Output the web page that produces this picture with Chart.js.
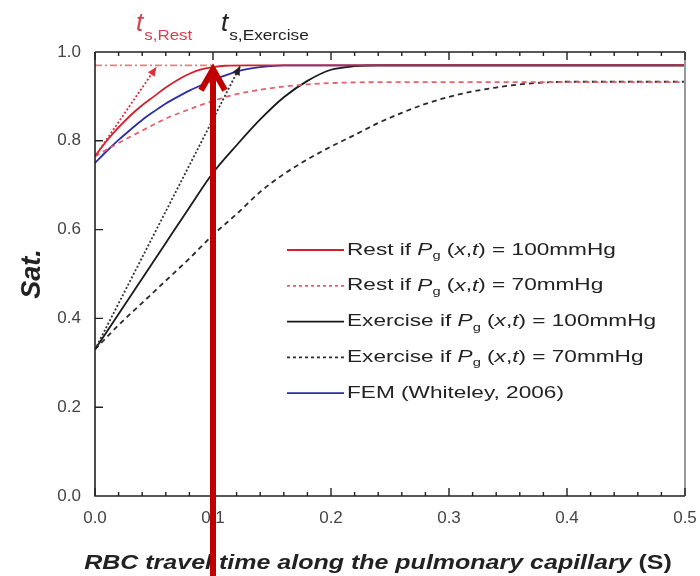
<!DOCTYPE html>
<html>
<head>
<meta charset="utf-8">
<script src="https://cdn.jsdelivr.net/npm/chart.js@4.4.1/dist/chart.umd.min.js"></script>
<style>
	body { margin: 0; background: #fff; }
	canvas { display: block; }
</style>
</head>
<body>
<canvas id="c" width="700" height="576"></canvas>
<script>
// RBC travel time (s) and O2 saturation
const rest100T = [0, 0.01, 0.02, 0.03, 0.04, 0.05, 0.06, 0.07, 0.08, 0.09, 0.1, 0.11, 0.13, 0.5]
const rest100 = [0.765, 0.80, 0.83, 0.857, 0.88, 0.90, 0.92, 0.937, 0.951, 0.961, 0.966, 0.969, 0.97, 0.97]

const rest70T = [0, 0.02, 0.04, 0.06, 0.08, 0.1, 0.12, 0.14, 0.16, 0.18, 0.2, 0.24, 0.5]
const rest70 = [0.765, 0.795, 0.823, 0.85, 0.871, 0.89, 0.905, 0.915, 0.922, 0.927, 0.93, 0.932, 0.932]

const ex100T = [0, 0.02, 0.04, 0.06, 0.08, 0.1, 0.12, 0.14, 0.16, 0.18, 0.2, 0.22, 0.24, 0.5]
const ex100 = [0.33, 0.41, 0.49, 0.57, 0.65, 0.728, 0.79, 0.848, 0.898, 0.935, 0.96, 0.968, 0.97, 0.97]

const ex70T = [0, 0.02, 0.04, 0.06, 0.08, 0.1, 0.12, 0.14, 0.16, 0.18, 0.2, 0.22, 0.24, 0.26, 0.28, 0.3, 0.32, 0.34, 0.36, 0.38, 0.4, 0.5]
const ex70 = [0.33, 0.385, 0.435, 0.485, 0.535, 0.588, 0.635, 0.685, 0.725, 0.758, 0.787, 0.813, 0.84, 0.863, 0.883, 0.899, 0.911, 0.92, 0.927, 0.931, 0.933, 0.933]

const femT = [0, 0.01, 0.02, 0.03, 0.04, 0.05, 0.06, 0.07, 0.08, 0.09, 0.1, 0.11, 0.12, 0.13, 0.14, 0.16, 0.5]
const fem = [0.75, 0.777, 0.802, 0.825, 0.847, 0.866, 0.884, 0.899, 0.913, 0.925, 0.937, 0.947, 0.956, 0.962, 0.966, 0.97, 0.97]

// tangent (initial slope) lines and the saturation level
const restTanT = [0, 0.052]
const restTanS = [0.765, 0.966]
const exTanT = [0, 0.123]
const exTanS = [0.33, 0.968]
const satLevelT = [0, 0.1]
const satLevelS = [0.97, 0.97]
const markerT = 0.1

const legendTask = ['Rest', 'Rest', 'Exercise', 'Exercise']
const legendPg = [100, 70, 100, 70]
const femLabel = 'FEM (Whiteley, 2006)'

const FONT = '"Liberation Sans", Arial, sans-serif'
const RED = '#d3202e'

const pts = (xs, ys) => xs.map((x, i) => ({ x: x, y: ys[i] }))

const line = (label, xs, ys, color, dash, legend) => ({
	label: label,
	data: pts(xs, ys),
	borderColor: color,
	borderWidth: 1.8,
	borderDash: dash || [],
	pointRadius: 0,
	fill: false,
	cubicInterpolationMode: 'monotone',
	legend: legend,
})

const datasets = [
	line('satLevel', satLevelT, satLevelS, '#e88088', [7, 3, 2, 3]),
	line('restTan', restTanT, restTanS, '#d8303c', [2, 2]),
	line('exTan', exTanT, exTanS, '#333', [2, 2]),
	line('Rest 100', rest100T, rest100, RED, null, true),
	line('Rest 70', rest70T, rest70, '#e2616a', [5, 4], true),
	line('Exercise 100', ex100T, ex100, '#1a1a1a', null, true),
	line('Exercise 70', ex70T, ex70, '#2a2a2a', [5, 4], true),
	line(femLabel, femT, fem, '#2b2fa8', null, true),
]

// draws mixed-font text, stretched horizontally by sx
function rich(ctx, x, y, parts, sx) {
	sx = sx || 1
	ctx.save()
	ctx.translate(x, y)
	ctx.scale(sx, 1)
	let cx = 0
	parts.forEach(p => {
		ctx.font = p.f
		ctx.fillText(p.t, cx, p.dy || 0)
		cx += ctx.measureText(p.t).width
	})
	ctx.restore()
	return x + cx * sx
}

function textWidth(ctx, parts, sx) {
	let w = 0
	parts.forEach(p => { ctx.font = p.f; w += ctx.measureText(p.t).width })
	return w * (sx || 1)
}

function pgParts(task, p) {
	const n = '17px ' + FONT, it = 'italic 17px ' + FONT
	return [
		{ t: task + ' if ', f: n },
		{ t: 'P', f: it },
		{ t: 'g', f: '11px ' + FONT, dy: 6 },
		{ t: ' (', f: n },
		{ t: 'x', f: it },
		{ t: ',', f: n },
		{ t: 't', f: it },
		{ t: ') = ' + p + 'mmHg', f: n },
	]
}

function arrowHead(ctx, x0, y0, x1, y1, color, size) {
	const a = Math.atan2(y1 - y0, x1 - x0)
	ctx.save()
	ctx.fillStyle = color
	ctx.translate(x1, y1)
	ctx.rotate(a)
	ctx.beginPath()
	ctx.moveTo(0, 0)
	ctx.lineTo(-size, -size * 0.45)
	ctx.lineTo(-size, size * 0.45)
	ctx.closePath()
	ctx.fill()
	ctx.restore()
}

const decor = {
	id: 'decor',
	afterDraw(chart) {
		const ctx = chart.ctx
		const a = chart.chartArea
		const xs = chart.scales.x, ys = chart.scales.y

		ctx.save()
		// frame
		ctx.lineWidth = 1.6
		ctx.strokeStyle = '#222'
		ctx.beginPath()
		ctx.moveTo(a.left, a.top); ctx.lineTo(a.right, a.top)
		ctx.moveTo(a.left, a.top); ctx.lineTo(a.left, a.bottom); ctx.lineTo(a.right, a.bottom)
		ctx.stroke()
		ctx.strokeStyle = '#999'
		ctx.lineWidth = 2
		ctx.beginPath()
		ctx.moveTo(a.right, a.top); ctx.lineTo(a.right, a.bottom)
		ctx.stroke()

		// inward ticks
		ctx.strokeStyle = '#222'
		ctx.lineWidth = 1.4
		ctx.beginPath()
		for (let i = 0; i <= 25; i++) {
			const px = xs.getPixelForValue(i * 0.02)
			const len = i % 5 === 0 ? 8 : 4
			ctx.moveTo(px, a.bottom); ctx.lineTo(px, a.bottom - len)
			ctx.moveTo(px, a.top); ctx.lineTo(px, a.top + len)
		}
		for (let i = 1; i < 5; i++) {
			const py = ys.getPixelForValue(i * 0.2)
			ctx.moveTo(a.left, py); ctx.lineTo(a.left + 8, py)
		}
		ctx.stroke()

		// arrowheads on tangents
		const rt = restTanT.length - 1, et = exTanT.length - 1
		arrowHead(ctx, xs.getPixelForValue(restTanT[0]), ys.getPixelForValue(restTanS[0]),
			xs.getPixelForValue(restTanT[rt]), ys.getPixelForValue(restTanS[rt]), '#d8303c', 9)
		arrowHead(ctx, xs.getPixelForValue(exTanT[0]), ys.getPixelForValue(exTanS[0]),
			xs.getPixelForValue(exTanT[et]), ys.getPixelForValue(exTanS[et]), '#222', 9)

		// legend
		const lx = 287, ly = 250, step = 35.8
		chart.data.datasets.filter(d => d.legend).forEach((d, i) => {
			const y = ly + i * step
			ctx.strokeStyle = d.borderColor
			ctx.lineWidth = 1.8
			ctx.setLineDash(d.borderDash.length ? [3, 3] : [])
			ctx.beginPath()
			ctx.moveTo(lx, y); ctx.lineTo(lx + 57, y)
			ctx.stroke()
			ctx.setLineDash([])
			ctx.fillStyle = '#222'
			ctx.textBaseline = 'middle'
			ctx.textAlign = 'left'
			if (i < 4) rich(ctx, lx + 60, y, pgParts(legendTask[i], legendPg[i]), 1.33)
			else rich(ctx, lx + 60, y, [{ t: d.label, f: '17px ' + FONT }], 1.33)
		})

		// t_s labels
		ctx.textBaseline = 'alphabetic'
		ctx.fillStyle = '#d4404e'
		let x = rich(ctx, 136, 31, [{ t: 't', f: 'italic 26px ' + FONT }])
		rich(ctx, x + 1, 40, [{ t: 's,Rest', f: '15px ' + FONT }], 1.13)
		ctx.fillStyle = '#222'
		x = rich(ctx, 221, 31, [{ t: 't', f: 'italic 26px ' + FONT }])
		rich(ctx, x + 1, 40, [{ t: 's,Exercise', f: '15px ' + FONT }], 1.15)

		// axis titles
		ctx.save()
		ctx.translate(33, (a.top + a.bottom) / 2)
		ctx.rotate(-Math.PI / 2)
		ctx.textAlign = 'center'
		ctx.textBaseline = 'middle'
		ctx.font = 'bold italic 27px ' + FONT
		ctx.fillText('Sat.', 0, 0)
		ctx.restore()

		const title = [
			{ t: 'RBC travel time along the pulmonary capillary ', f: 'bold italic 20px ' + FONT },
			{ t: '(S)', f: 'bold 20px ' + FONT },
		]
		const tw = textWidth(ctx, title, 1.25)
		rich(ctx, 378 - tw / 2, 569, title, 1.25)

		// big marker arrow at t = markerT
		const mx = xs.getPixelForValue(markerT)
		const tip = ys.getPixelForValue(satLevelS[0]) + 1
		ctx.strokeStyle = '#c00000'
		ctx.lineWidth = 6
		ctx.lineJoin = 'miter'
		ctx.beginPath()
		ctx.moveTo(mx, chart.height); ctx.lineTo(mx, tip + 3)
		ctx.stroke()
		ctx.beginPath()
		ctx.moveTo(mx - 12, tip + 24); ctx.lineTo(mx, tip + 3); ctx.lineTo(mx + 12, tip + 24)
		ctx.stroke()
		ctx.restore()
	}
}

new Chart(document.getElementById('c'), {
	type: 'line',
	data: { datasets: datasets },
	options: {
		responsive: false,
		animation: false,
		devicePixelRatio: 1,
		layout: { padding: { top: 52, right: 15, left: 0, bottom: 0 } },
		plugins: { legend: { display: false }, tooltip: { enabled: false } },
		scales: {
			x: {
				type: 'linear', min: 0, max: 0.5,
				ticks: { stepSize: 0.1, callback: v => v.toFixed(1), font: { family: FONT, size: 17 }, color: '#444', padding: 12, maxRotation: 0 },
				grid: { display: false, drawTicks: false },
				border: { display: false },
				afterFit: s => { s.height = 80; s.paddingRight = 0; s.paddingLeft = 0 },
			},
			y: {
				min: 0, max: 1,
				ticks: { stepSize: 0.2, callback: v => v.toFixed(1), font: { family: FONT, size: 17 }, color: '#444', padding: 14 },
				grid: { display: false, drawTicks: false },
				border: { display: false },
				afterFit: s => { s.width = 95; s.paddingTop = 0; s.paddingBottom = 0 },
			},
		},
	},
	plugins: [decor],
})
</script>
</body>
</html>
